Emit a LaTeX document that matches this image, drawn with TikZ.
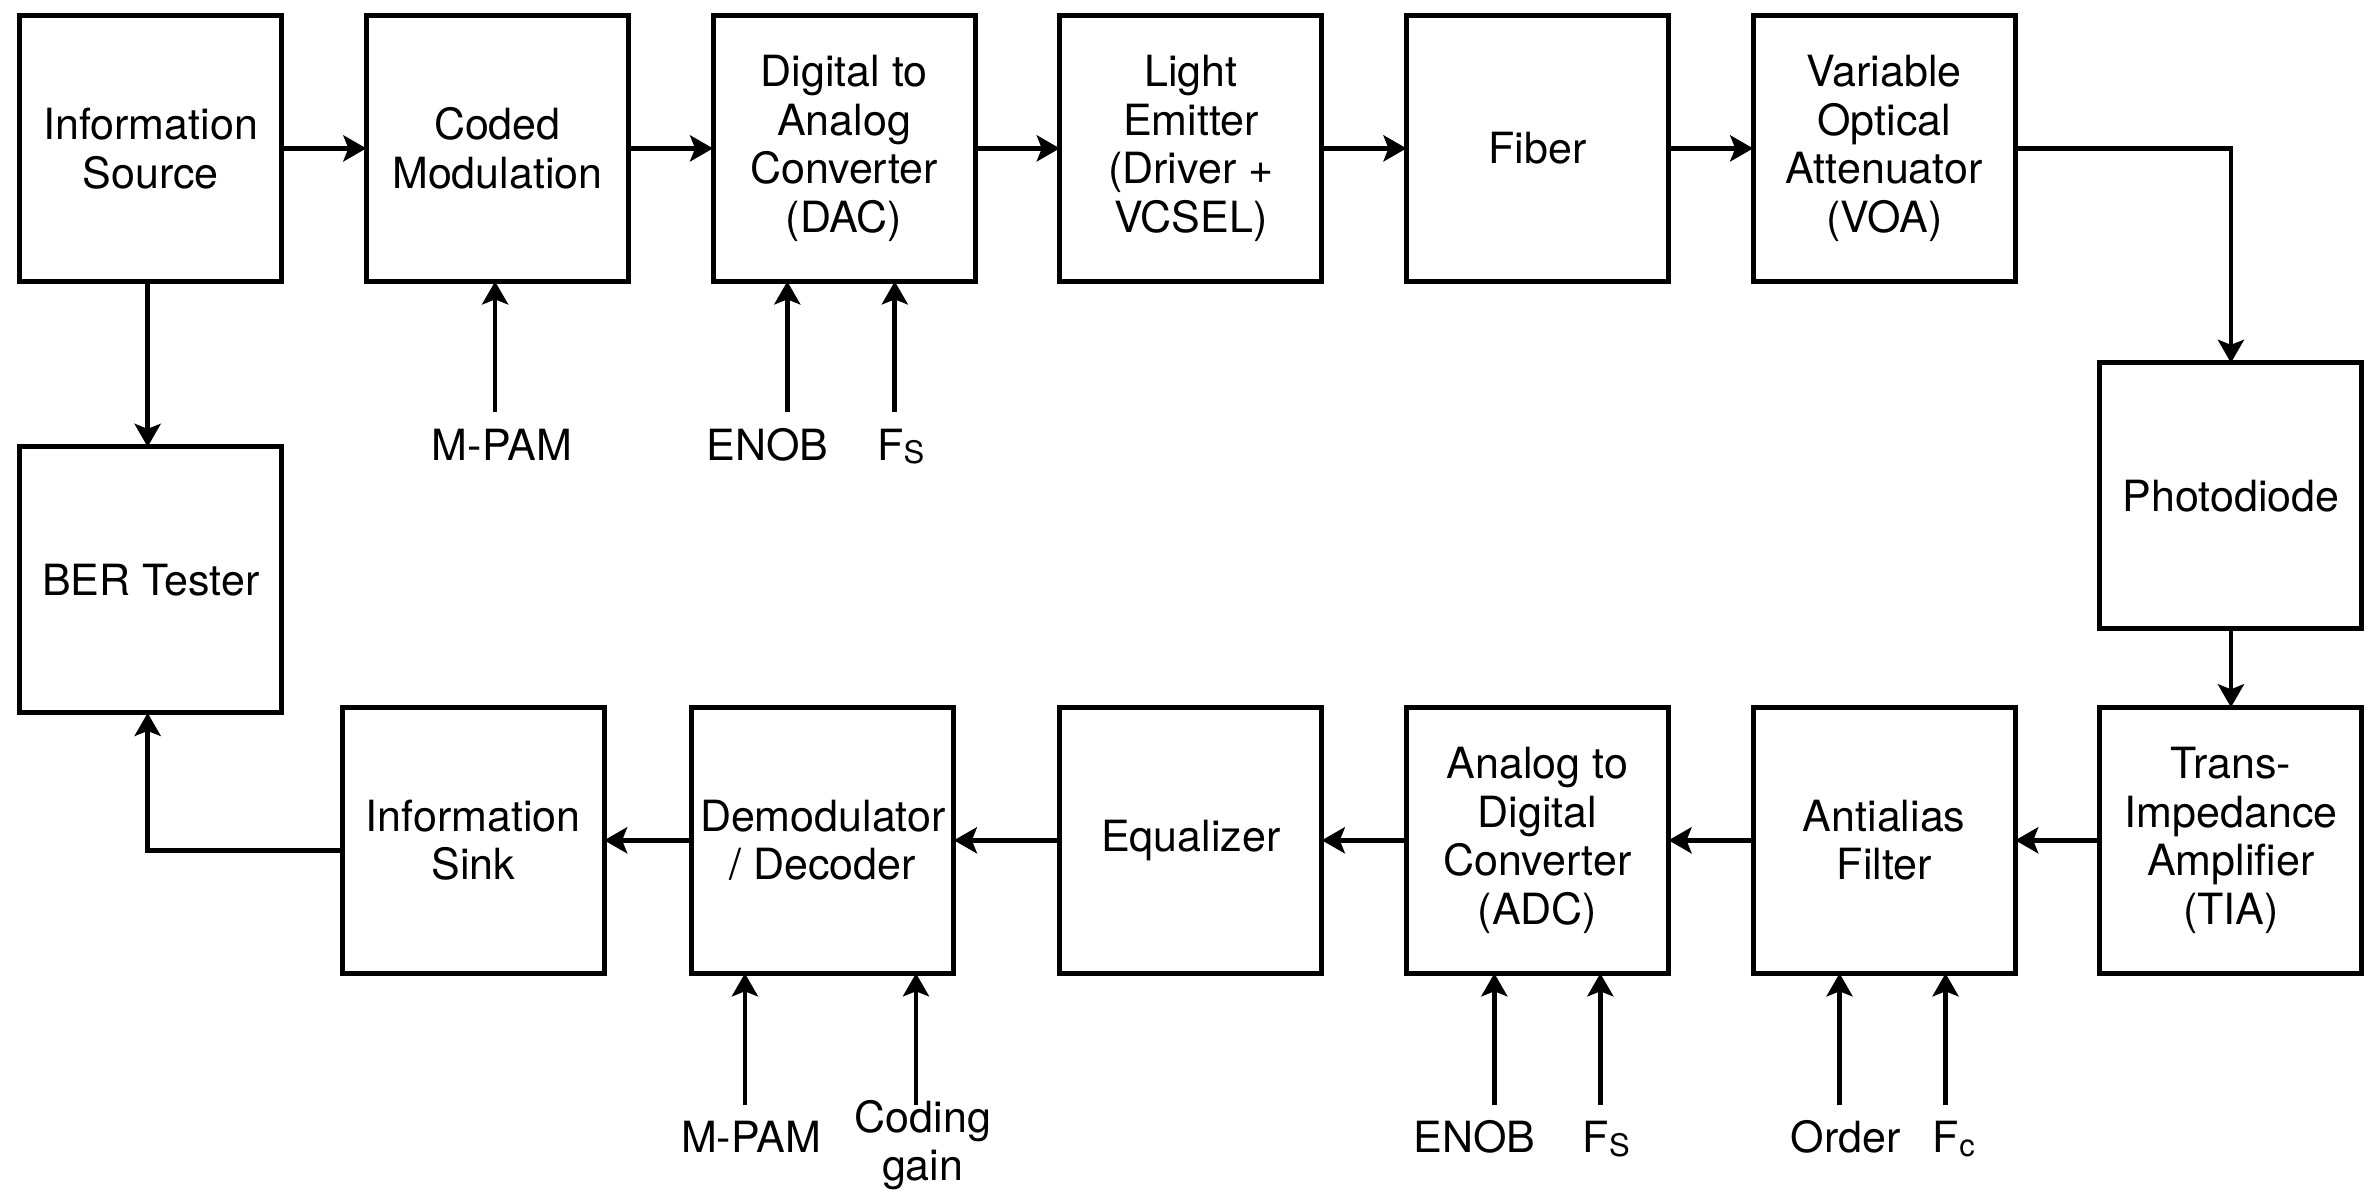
\documentclass[tikz,border=0pt]{standalone}
\usepackage{fontspec}
\setmainfont{TeX Gyre Heros}
\usetikzlibrary{arrows.meta}
\newcommand{\lowsub}[1]{\raisebox{-1.7pt}{\fontsize{15.5pt}{15.5pt}\selectfont #1}}
\begin{document}
\begin{tikzpicture}[x=0.757pt,y=-0.757pt,
  blk/.style={draw, line width=2.5pt, minimum width=131pt, minimum height=133pt,
    inner sep=0pt, outer sep=0pt, align=center,
    font=\fontsize{21.5pt}{24.3pt}\selectfont},
  lbl/.style={inner sep=0pt, anchor=base, align=center,
    font=\fontsize{21.5pt}{24.3pt}\selectfont},
  arr/.style={line width=2.4pt, -{Stealth[length=11.5pt,width=13pt,inset=2.5pt]}}
]
\useasboundingbox (0,0) rectangle (1568,787);

% boxes
\node[blk] (src)  at (99.5,98)   {Information\\Source};
\node[blk] (cm)   at (328.5,98)  {Coded\\Modulation};
\node[blk] (dac)  at (557.5,98)  {Digital to\\Analog\\Converter\\(DAC)};
\node[blk] (le)   at (786.5,98)  {Light\\Emitter\\(Driver +\\VCSEL)};
\node[blk] (fib)  at (1015.5,98) {Fiber};
\node[blk] (voa)  at (1244.5,98) {Variable\\Optical\\Attenuator\\(VOA)};
\node[blk] (pd)   at (1473.5,327.5) {Photodiode};
\node[blk] (tia)  at (1473.5,555) {Trans-\\Impedance\\Amplifier\\(TIA)};
\node[blk] (aa)   at (1244.5,555) {Antialias\\Filter};
\node[blk] (adc)  at (1015.5,555) {Analog to\\Digital\\Converter\\(ADC)};
\node[blk] (eq)   at (786.5,555)  {Equalizer};
\node[blk] (dem)  at (543.5,555)  {Demodulator\\/ Decoder};
\node[blk] (sink) at (312.5,555)  {Information\\Sink};
\node[blk] (ber)  at (99.5,383)   {BER Tester};

% main chain
\draw[arr] (src) -- (cm);
\draw[arr] (cm) -- (dac);
\draw[arr] (dac) -- (le);
\draw[arr] (le) -- (fib);
\draw[arr] (fib) -- (voa);
\draw[arr] (voa.east) -| (pd.north);
\draw[arr] (pd) -- (tia);
\draw[arr] (tia) -- (aa);
\draw[arr] (aa) -- (adc);
\draw[arr] (adc) -- (eq);
\draw[arr] (eq) -- (dem);
\draw[arr] (dem) -- (sink);
\draw[arr] ([xshift=-1.5pt]src.south) -- ([xshift=-1.5pt]ber.north);
\draw[arr] ([yshift=-5pt]sink.west) -| ([xshift=-1.5pt]ber.south);

% top parameter inputs
\node[lbl] (tmpam) at (331.5,304) {M-PAM};
\node[lbl] (tenob) at (507,304) {ENOB};
\node[lbl] (tfs)   at (595,304) {F\lowsub{S}};
\coordinate (ctm) at (327,272);
\coordinate (cte) at (520,272);
\coordinate (ctf) at (591,272);
\draw[arr] (ctm) -- (ctm |- cm.south);
\draw[arr] (cte) -- (cte |- dac.south);
\draw[arr] (ctf) -- (ctf |- dac.south);

% bottom parameter inputs
\node[lbl] (bmpam) at (496,761.5) {M-PAM};
\node[lbl] (bcg)   at (609.5,780) {Coding\\gain};
\node[lbl] (benob) at (974,761.5) {ENOB};
\node[lbl] (bfs)   at (1061,761.5) {F\lowsub{S}};
\node[lbl] (bord)  at (1219,761.5) {Order};
\node[lbl] (bfc)   at (1290.5,761.5) {F\lowsub{c}};
\coordinate (cbm) at (492,730);
\coordinate (cbc) at (605,730);
\coordinate (cbe) at (987,730);
\coordinate (cbf) at (1057,730);
\coordinate (cbo) at (1215,730);
\coordinate (cbc2) at (1285,730);
\draw[arr] (cbm) -- (cbm |- dem.south);
\draw[arr] (cbc) -- (cbc |- dem.south);
\draw[arr] (cbe) -- (cbe |- adc.south);
\draw[arr] (cbf) -- (cbf |- adc.south);
\draw[arr] (cbo) -- (cbo |- aa.south);
\draw[arr] (cbc2) -- (cbc2 |- aa.south);
\end{tikzpicture}
\end{document}
